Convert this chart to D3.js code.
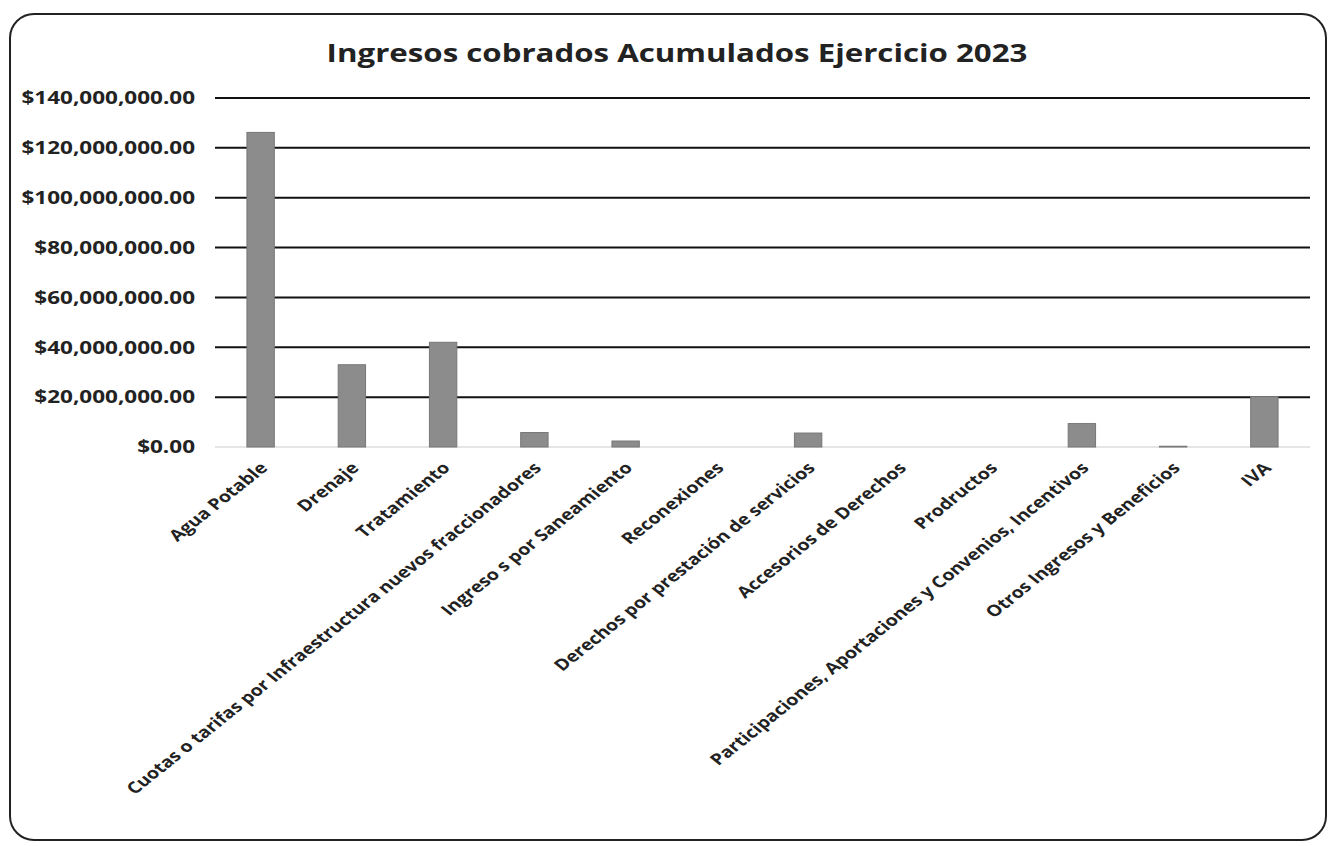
<!DOCTYPE html>
<html><head><meta charset="utf-8">
<script src="https://cdn.jsdelivr.net/npm/d3@7"></script>
<style>body{margin:0;background:#fff}svg{display:block}</style>
</head><body><svg id="c" width="1338" height="846"></svg>
<script>
const title = "Ingresos cobrados Acumulados Ejercicio 2023";
const categories = ["Agua Potable","Drenaje","Tratamiento","Cuotas o tarifas por Infraestructura nuevos fraccionadores","Ingreso s por Saneamiento","Reconexiones","Derechos por prestación de servicios","Accesorios de Derechos","Prodructos","Participaciones, Aportaciones y Convenios, Incentivos","Otros Ingresos y Beneficios","IVA"];
const values = [126200000,33000000,42000000,5800000,2400000,0,5600000,0,0,9400000,300000,20200000];
const yTicks = [0,20000000,40000000,60000000,80000000,100000000,120000000,140000000];

const svg = d3.select("#c");
const font = "'Open Sans', sans-serif";
const sx = 1.25;
svg.append("rect").attr("x",10).attr("y",14).attr("width",1316).attr("height",826)
  .attr("rx",24).attr("fill","#fff").attr("stroke","#222").attr("stroke-width",2);

svg.append("text").attr("transform",`translate(677,62) scale(${sx},1)`).attr("text-anchor","middle")
  .attr("font-family",font).attr("font-weight",700).attr("font-size",25).attr("fill","#222").text(title);

const m = {l:215, r:1310, t:98, b:447};
const x = d3.scaleBand().domain(categories).range([m.l,m.r]).paddingInner(0.7).paddingOuter(0.35);
const y = d3.scaleLinear().domain([0,140000000]).range([m.b,m.t]);
const fmt = v => "$" + d3.format(",.2f")(v);

const ga = svg.append("g").attr("transform",`translate(${m.l},0)`)
  .call(d3.axisLeft(y).tickValues(yTicks).tickFormat(fmt).tickSize(0).tickPadding(16));
ga.select(".domain").remove();
ga.selectAll("text").attr("font-family",font).attr("font-weight",700).attr("font-size",18).attr("fill","#222")
  .attr("transform",`scale(${sx},1)`);

svg.append("g").selectAll("line").data(yTicks).join("line")
  .attr("x1",m.l).attr("x2",m.r).attr("y1",d=>y(d)).attr("y2",d=>y(d))
  .attr("stroke",d=>d===0?"#ddd":"#111").attr("stroke-width",d=>d===0?1.5:2);

svg.append("g").selectAll("rect").data(values).join("rect")
  .attr("x",(d,i)=>x(categories[i])).attr("width",x.bandwidth())
  .attr("y",d=>y(d)).attr("height",d=>y(0)-y(d))
  .attr("fill","#8c8c8c").attr("stroke","#777").attr("stroke-width",1);

const gx = svg.append("g").attr("transform",`translate(0,${m.b})`)
  .call(d3.axisBottom(x).tickSize(0).tickPadding(0));
gx.select(".domain").remove();
gx.selectAll("text").attr("font-family",font).attr("font-weight",700).attr("font-size",15.7).attr("fill","#222")
  .attr("text-anchor","end").attr("dy",0).attr("y",0)
  .attr("transform",`translate(8,22) scale(${sx},1) rotate(-45)`);
</script></body></html>
